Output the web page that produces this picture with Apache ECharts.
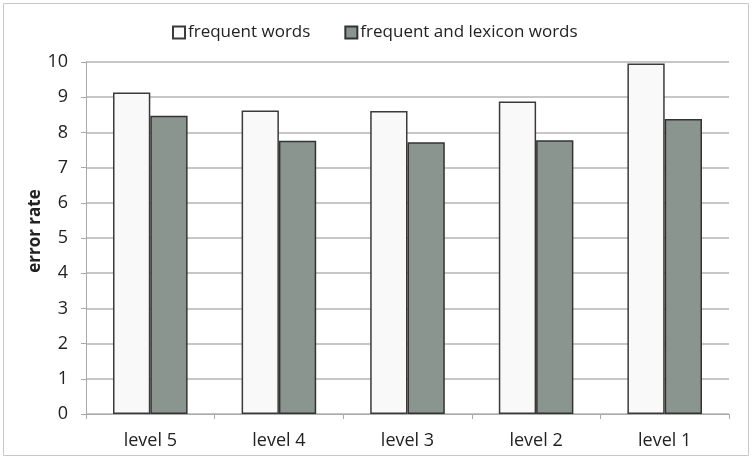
<!DOCTYPE html>
<html>
<head>
<meta charset="utf-8">
<script src="https://cdn.jsdelivr.net/npm/echarts@6/dist/echarts.min.js"></script>
<style>
  html, body { margin: 0; padding: 0; background: #fff; }
  #chart { width: 752px; height: 459px; }
</style>
</head>
<body>
<div id="chart"></div>
<script>
const categories = ["level 5", "level 4", "level 3", "level 2", "level 1"];
const frequentWords = [9.13, 8.62, 8.61, 8.88, 9.96];
const frequentLexiconWords = [8.47, 7.76, 7.72, 7.78, 8.38];
const yTicks = [0, 1, 2, 3, 4, 5, 6, 7, 8, 9, 10];

const font = "'Open Sans', 'Liberation Sans', sans-serif";
const chart = echarts.init(document.getElementById("chart"));
chart.setOption({
  animation: false,
  backgroundColor: "#fff",
  graphic: [{
    type: "rect",
    shape: { x: 3.5, y: 3.5, width: 745, height: 452 },
    style: { fill: "none", stroke: "#c8c8c8", lineWidth: 1 }
  }, {
    // axis title, placed like the original (slightly above the plot centre)
    type: "text",
    x: 35,
    y: 231,
    rotation: Math.PI / 2,
    style: {
      text: "error rate",
      font: "bold 17px 'Open Sans', sans-serif",
      fill: "#222",
      align: "center",
      verticalAlign: "middle"
    }
  }],
  legend: {
    top: 19,
    left: 167,
    icon: "rect",
    itemWidth: 12,
    itemHeight: 12,
    itemGap: 34,
    textStyle: { fontFamily: font, fontSize: 17, color: "#222", padding: [0, 0, 0, -2] },
    data: ["frequent words", "frequent and lexicon words"]
  },
  grid: { left: 86, right: 23, top: 62, bottom: 45 },
  xAxis: {
    type: "category",
    data: categories,
    axisLine: { lineStyle: { color: "#aaa" } },
    axisTick: { show: true, length: 5, lineStyle: { color: "#aaa" } },
    axisLabel: { fontFamily: font, fontSize: 18, color: "#222", margin: 18 }
  },
  yAxis: {
    type: "value",
    min: yTicks[0],
    max: yTicks[yTicks.length - 1],
    interval: 1,
    axisLine: { show: true, lineStyle: { color: "#aaa" } },
    axisTick: { show: true, length: 5, lineStyle: { color: "#aaa" } },
    axisLabel: { fontFamily: font, fontSize: 18, color: "#222", margin: 18 },
    splitLine: { lineStyle: { color: "#b4b4b4", width: 1.5 } }
  },
  series: [
    {
      name: "frequent words",
      type: "bar",
      data: frequentWords,
      barGap: "0%",
      barCategoryGap: "42%",
      itemStyle: { color: "#f9f9f9", borderColor: "#3a3a3a", borderWidth: 1.5 }
    },
    {
      name: "frequent and lexicon words",
      type: "bar",
      data: frequentLexiconWords,
      itemStyle: { color: "#8b9590", borderColor: "#333", borderWidth: 1.5 }
    }
  ]
});
</script>
</body>
</html>
